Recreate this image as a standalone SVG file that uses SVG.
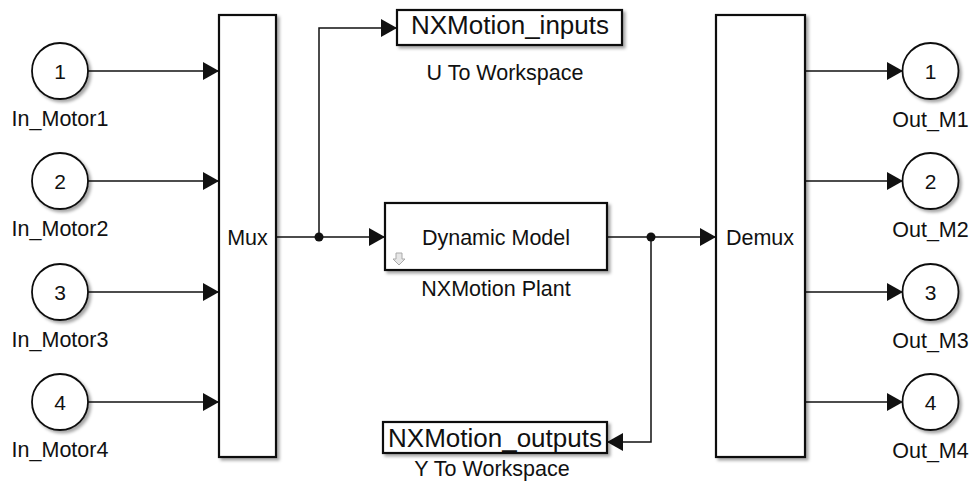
<svg xmlns="http://www.w3.org/2000/svg" width="972" height="495" viewBox="0 0 972 495">
<style>
  text { font-family: "Liberation Sans", Arial, sans-serif; fill: #111; }
  .lbl { font-size: 21.5px; text-anchor: middle; }
  .num { font-size: 21px; text-anchor: middle; }
  .big { font-size: 26px; text-anchor: middle; }
  .blk { fill: #fff; stroke: #111; stroke-width: 2.2; filter: url(#sh); }
  .port { fill: #fff; stroke: #111; stroke-width: 1.8; filter: url(#sh); }
  .wire { fill: none; stroke: #111; stroke-width: 1.5; }
  .dot { fill: #111; }
</style>
<defs>
  <filter id="sh" x="-20%" y="-20%" width="150%" height="150%">
    <feDropShadow dx="2.5" dy="2.5" stdDeviation="1.5" flood-color="#000" flood-opacity="0.35"/>
  </filter>
  <marker id="ah" viewBox="0 0 16 18" refX="16" refY="9" markerWidth="16" markerHeight="18" markerUnits="userSpaceOnUse" orient="auto">
    <path d="M0,0 L16,9 L0,18 Z" fill="#111"/>
  </marker>
</defs>
<rect width="972" height="495" fill="#fff"/>

<g id="connectors">
  <path class="wire" d="M88,71 H219" marker-end="url(#ah)"/>
  <path class="wire" d="M88,181 H219" marker-end="url(#ah)"/>
  <path class="wire" d="M88,292 H219" marker-end="url(#ah)"/>
  <path class="wire" d="M88,402 H219" marker-end="url(#ah)"/>
  <path class="wire" d="M276,237 H385" marker-end="url(#ah)"/>
  <path class="wire" d="M319,237 V28 H397" marker-end="url(#ah)"/>
  <circle class="dot" cx="319" cy="237" r="4.5"/>
  <path class="wire" d="M607,237 H716" marker-end="url(#ah)"/>
  <path class="wire" d="M651,237 V442 H607" marker-end="url(#ah)"/>
  <circle class="dot" cx="651" cy="237" r="4.5"/>
  <path class="wire" d="M805,71 H903" marker-end="url(#ah)"/>
  <path class="wire" d="M805,181 H903" marker-end="url(#ah)"/>
  <path class="wire" d="M805,292 H903" marker-end="url(#ah)"/>
  <path class="wire" d="M805,402 H903" marker-end="url(#ah)"/>
</g>

<g id="in1"><circle class="port" cx="60" cy="71" r="28"/><text class="num" x="60" y="78.5">1</text><text class="lbl" x="60" y="126">In_Motor1</text></g>
<g id="in2"><circle class="port" cx="60" cy="181" r="28"/><text class="num" x="60" y="188.5">2</text><text class="lbl" x="60" y="236">In_Motor2</text></g>
<g id="in3"><circle class="port" cx="60" cy="292" r="28"/><text class="num" x="60" y="299.5">3</text><text class="lbl" x="60" y="347">In_Motor3</text></g>
<g id="in4"><circle class="port" cx="60" cy="402" r="28"/><text class="num" x="60" y="409.5">4</text><text class="lbl" x="60" y="457">In_Motor4</text></g>

<g id="mux"><rect class="blk" x="219" y="15" width="57" height="442"/><text class="lbl" x="247.5" y="245">Mux</text></g>

<g id="u_to_workspace"><rect class="blk" x="397" y="10" width="225" height="35"/><text class="big" x="510" y="34">NXMotion_inputs</text><text class="lbl" x="505" y="80">U To Workspace</text></g>

<g id="plant"><rect class="blk" x="385" y="203" width="222" height="67"/><text class="lbl" x="496" y="245">Dynamic Model</text>
  <path d="M396,253 H402 V259 H405 L399,265 L393,259 H396 Z" fill="#e6e6e6" stroke="#aaa" stroke-width="1"/>
  <text class="lbl" x="496" y="296">NXMotion Plant</text></g>

<g id="y_to_workspace"><rect class="blk" x="383" y="422" width="224" height="31"/><text class="big" x="495" y="447">NXMotion_outputs</text><text class="lbl" x="492" y="476">Y To Workspace</text></g>

<g id="demux"><rect class="blk" x="716" y="15" width="89" height="442"/><text class="lbl" x="760" y="245">Demux</text></g>

<g id="out1"><circle class="port" cx="930.5" cy="71" r="28"/><text class="num" x="930.5" y="78.5">1</text><text class="lbl" x="930.5" y="127">Out_M1</text></g>
<g id="out2"><circle class="port" cx="930.5" cy="181" r="28"/><text class="num" x="930.5" y="188.5">2</text><text class="lbl" x="930.5" y="237">Out_M2</text></g>
<g id="out3"><circle class="port" cx="930.5" cy="292" r="28"/><text class="num" x="930.5" y="299.5">3</text><text class="lbl" x="930.5" y="348">Out_M3</text></g>
<g id="out4"><circle class="port" cx="930.5" cy="402" r="28"/><text class="num" x="930.5" y="409.5">4</text><text class="lbl" x="930.5" y="458">Out_M4</text></g>
</svg>
